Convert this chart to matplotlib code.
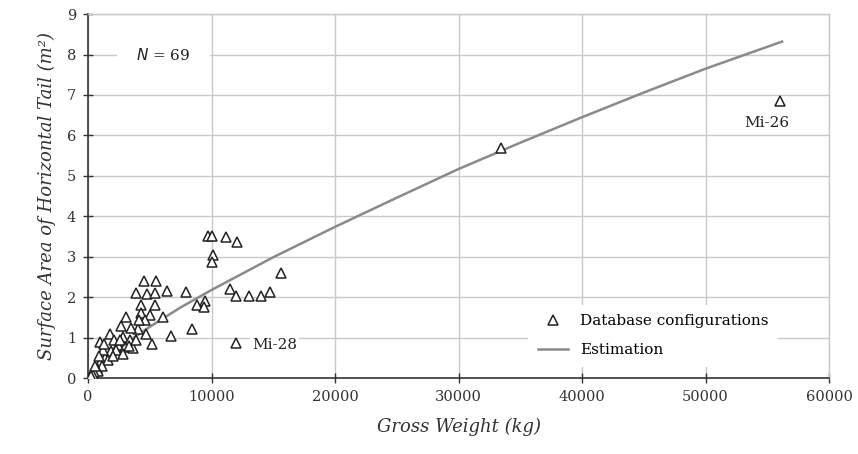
import matplotlib
matplotlib.use("Agg")
import matplotlib.pyplot as plt

# Database helicopters: gross weight (kg) vs horizontal tail area (m^2)
weight_kg = [
    56000, 33400, 9700, 10000, 11200, 12100, 10150, 10050, 15600, 4500,
    5500, 3900, 4750, 5400, 6400, 7900, 11500, 12000, 13000, 14000,
    14700, 9500, 8800, 9400, 4250, 5450, 4300, 5050, 6100, 3050,
    4600, 2650, 4050, 4700, 8400, 6700, 5150, 12000, 1000, 1800,
    2850, 3400, 2450, 3000, 3650, 1850, 1400, 950, 700, 300,
    1200, 1600, 1100, 800, 500, 400, 600, 2100, 2300, 2800,
    3300, 3900, 2000, 1300, 2600, 3500, 4150, 200, 900,
]
tail_area_m2 = [
    6.85, 5.68, 3.52, 3.52, 3.48, 3.37, 3.04, 2.88, 2.60, 2.40,
    2.40, 2.10, 2.08, 2.10, 2.16, 2.12, 2.20, 2.02, 2.02, 2.02,
    2.12, 1.92, 1.80, 1.75, 1.82, 1.80, 1.62, 1.56, 1.52, 1.50,
    1.44, 1.30, 1.22, 1.10, 1.22, 1.04, 0.84, 0.86, 0.90, 1.08,
    1.02, 0.94, 0.82, 0.76, 0.74, 0.66, 0.50, 0.38, 0.26, 0.12,
    0.70, 0.45, 0.30, 0.18, 0.15, 0.08, 0.30, 0.95, 0.70, 0.60,
    0.80, 0.95, 0.55, 0.85, 0.95, 1.25, 1.45, 0.05, 0.55,
]

# Estimation curve
est_weight_kg = [0, 500, 1000, 2000, 3500, 5000, 7500, 10000, 15000, 20000,
                 25000, 30000, 35000, 40000, 45000, 50000, 56200]
est_area_m2 = [0.0, 0.21, 0.36, 0.62, 0.96, 1.27, 1.75, 2.18, 2.99, 3.74,
               4.46, 5.17, 5.82, 6.45, 7.06, 7.65, 8.32]

annotations = [("Mi-26", 55000, 6.31), ("Mi-28", 13300, 0.83)]

x_ticks = [0, 10000, 20000, 30000, 40000, 50000, 60000]
y_ticks = list(range(0, 10))

serif = "DejaVu Serif"
fig = plt.figure(figsize=(8.58, 4.54), dpi=100)
ax = fig.add_axes([0.1026, 0.167, 0.8636, 0.802])

ax.set_xlim(0, 60000)
ax.set_ylim(0, 9)
ax.set_xticks(x_ticks)
ax.set_yticks(y_ticks)
ax.grid(True, color="#c8c8c8", linewidth=1.0, zorder=0)
ax.set_axisbelow(True)

for side in ("top", "right"):
    ax.spines[side].set_color("#c8c8c8")
    ax.spines[side].set_linewidth(1.0)
for side in ("left", "bottom"):
    ax.spines[side].set_color("#333333")
    ax.spines[side].set_linewidth(1.2)

ax.tick_params(axis="both", direction="inout", length=7, width=1.0,
               color="#333333", labelsize=10.5, labelcolor="#333333", pad=5)
for lbl in ax.get_xticklabels() + ax.get_yticklabels():
    lbl.set_fontfamily(serif)

ax.plot(est_weight_kg, est_area_m2, color="#8a8a8a", linewidth=1.8,
        label="Estimation", zorder=2)
ax.plot(weight_kg, tail_area_m2, linestyle="none", marker="^", markersize=7.5,
        markerfacecolor="white", markeredgecolor="#222222",
        markeredgewidth=1.1, label="Database configurations", zorder=3)

for name, x, y in annotations:
    ax.text(x, y, name, family=serif, fontsize=11, color="#222222",
            ha="left" if name == "Mi-28" else "center", va="center", zorder=4,
            bbox=dict(facecolor="white", edgecolor="none", pad=1.5))

ax.text(6100, 8.0, r"$\it{N}$ = 69", family=serif, fontsize=11,
        color="#222222", ha="center", va="center", zorder=4,
        bbox=dict(facecolor="white", edgecolor="none", pad=14))

handles, labels = ax.get_legend_handles_labels()
leg = ax.legend(handles[::-1], labels[::-1], loc="upper left",
                bbox_to_anchor=(0.584, 0.222), frameon=True, framealpha=1,
                edgecolor="none", facecolor="white", fancybox=False,
                prop={"family": serif, "size": 11}, labelspacing=1.0,
                handlelength=2.0, borderpad=0.6)
for h in leg.legend_handles:
    if hasattr(h, "set_markersize"):
        h.set_markersize(7)

ax.set_xlabel("Gross Weight (kg)", family=serif, style="italic",
              fontsize=13, color="#333333", labelpad=10)
ax.set_ylabel("Surface Area of Horizontal Tail (m²)", family=serif,
              style="italic", fontsize=13, color="#333333", labelpad=8)

fig.savefig("out.png", dpi=100, facecolor="white")
